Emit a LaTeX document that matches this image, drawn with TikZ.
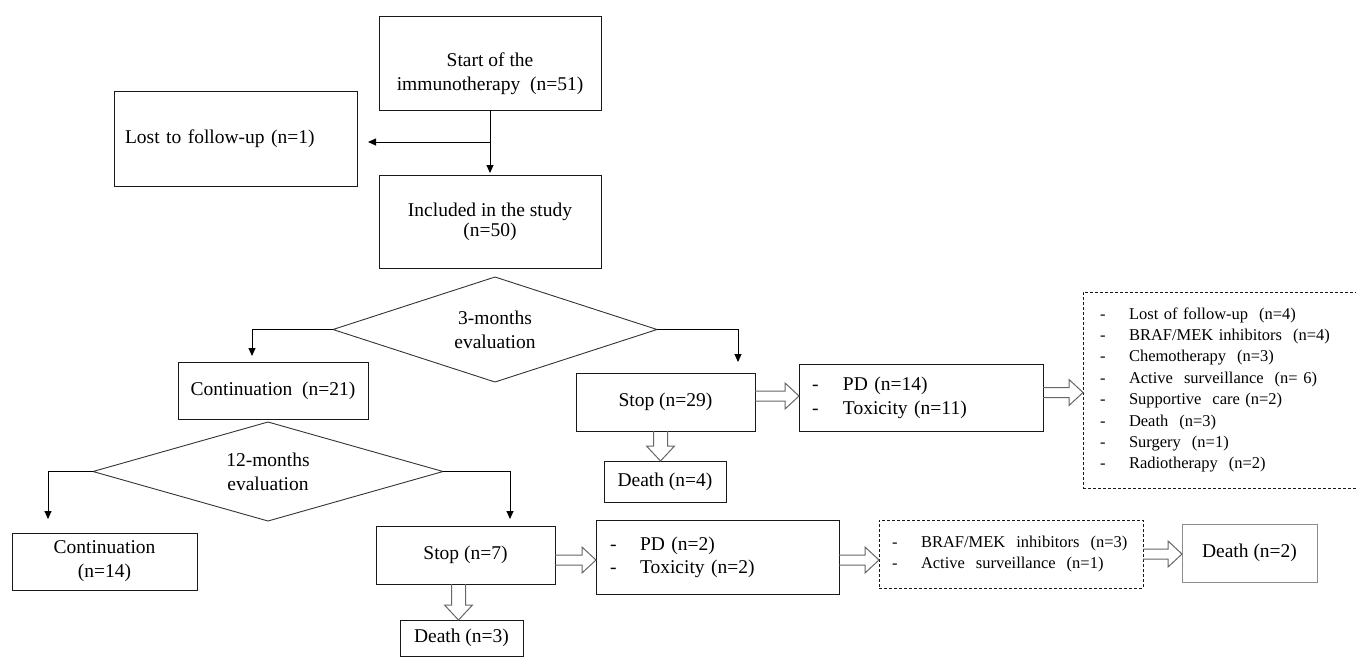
\documentclass[tikz,border=0pt]{standalone}
\usepackage{fontspec}
\setmainfont{Liberation Serif}
\usetikzlibrary{shapes.geometric,calc,arrows.meta}
\newcommand\mainfs{\fontsize{19.5}{24}\selectfont}
\newcommand\listfs{\fontsize{16.5}{21.4}\selectfont}
\newcommand\dd[1]{\makebox[#1][l]{-}}
\newcommand\hblk[2]{\draw[blk] ($(#1)+(0,-5)$) -- ($(#2)+(-14,-5)$) -- ($(#2)+(-14,-13)$) -- (#2) -- ($(#2)+(-14,13)$) -- ($(#2)+(-14,5)$) -- ($(#1)+(0,5)$);}
\newcommand\vblk[2]{\draw[blk] ($(#1)+(-7,0)$) -- ($(#2)+(-7,-15)$) -- ($(#2)+(-14,-15)$) -- (#2) -- ($(#2)+(14,-15)$) -- ($(#2)+(7,-15)$) -- ($(#1)+(7,0)$);}
\begin{document}
\begin{tikzpicture}[x=1pt,y=-1pt,
 sz/.style 2 args={minimum width=#1,minimum height=#2},
 box/.style={draw=black!90, line width=0.9pt, rectangle, inner sep=0pt, outer sep=0pt, align=center, font=\mainfs},
 lbox/.style={box, align=left},
 dbox/.style={draw=black!90, line width=0.9pt, dash pattern=on 3pt off 2pt, rectangle, inner ysep=0pt, outer sep=0pt, align=left, font=\listfs},
 dia/.style={diamond, draw=black!80, line width=0.9pt, aspect=3, inner sep=0pt, outer sep=0pt, align=center, font=\mainfs},
 txt/.style={inner sep=0pt, outer sep=0pt, align=center, font=\mainfs},
 arr/.style={draw=black, line width=0.9pt, -{Triangle[length=8pt,width=7pt]}},
 blk/.style={draw=black!60, line width=1pt, line join=miter},
]
\useasboundingbox (0,0) rectangle (1356,657);

% boxes
\node[box, sz={222pt}{94pt}] (start) at (490,63) {};
\node[txt] (startt) at (490,74) {Start of the\\immunotherapy\ \ (n=51)};
\node[lbox, sz={243pt}{95pt}, text width=221pt, inner xsep=11pt] (lost) at (235.5,138.5) {Lost to follow-up (n=1)};
\node[box, sz={222pt}{93pt}] (included) at (490,221.5) {Included in the study\\[-4pt](n=50)};
\node[dia, sz={324pt}{105pt}] (d3) at (495,329.5) {3-months\\evaluation};
\node[box, sz={190pt}{57pt}] (cont21) at (273,390.5) {Continuation\ \ (n=21)};
\node[box, sz={179pt}{58pt}] (stop29) at (665.5,402) {Stop (n=29)};
\node[box, sz={122pt}{41pt}] (death4) at (665,481.5) {Death (n=4)};
\node[lbox, sz={244pt}{67pt}, text width=218pt, inner xsep=13pt] (pd14) at (921,397.5) {\dd{31pt}PD (n=14)\\\dd{31pt}Toxicity (n=11)};
\node[dbox, sz={277pt}{196pt}, text width=243pt, inner xsep=17pt, anchor=north west] (dash1) at (1083,292) {\dd{29pt}Lost of follow-up\ \ (n=4)\\
\dd{29pt}BRAF/MEK inhibitors\ \ (n=4)\\
\dd{29pt}Chemotherapy\ \ (n=3)\\
\dd{29pt}Active\ \ surveillance\ \ (n=\ 6)\\
\dd{29pt}Supportive\ \ care (n=2)\\
\dd{29pt}Death\ \ (n=3)\\
\dd{29pt}Surgery\ \ (n=1)\\
\dd{29pt}Radiotherapy\ \ (n=2)};
\node[dia, sz={350pt}{99pt}] (d12) at (268,471.5) {12-months\\evaluation};
\node[box, sz={185pt}{57pt}] (cont14) at (104.5,561.5) {Continuation\\(n=14)};
\node[box, sz={179pt}{58pt}] (stop7) at (465.5,555) {Stop (n=7)};
\node[lbox, sz={243pt}{74pt}, text width=215pt, inner xsep=14pt] (pd2) at (717.5,557) {\dd{30pt}PD (n=2)\\[-1pt]\dd{30pt}Toxicity (n=2)};
\node[dbox, sz={264pt}{68pt}, text width=238pt, inner xsep=13pt] (dash2) at (1011,554) {\dd{29pt}BRAF/MEK\ \ inhibitors\ \ (n=3)\\
\dd{29pt}Active\ \ surveillance\ \ (n=1)};
\node[box, draw=black!45, sz={135pt}{58pt}] (death2) at (1249.5,553) {Death (n=2)};
\node[box, sz={123pt}{36pt}, anchor=north west] (death3) at (400,620) {Death (n=3)};

% line arrows
\coordinate (yj) at (0,142);
\coordinate (j1) at (start.south |- yj);
\draw[arr, shorten >=2pt] (start.south) -- (included.north);
\draw[arr, shorten >=11pt] (j1) -- (j1 -| lost.east);
\coordinate (xa) at (252,0);
\coordinate (xb) at (738,0);
\coordinate (xc) at (48,0);
\coordinate (xd) at (510,0);
\draw[arr, shorten >=6pt] (d3.west) -| (xa |- cont21.north);
\draw[arr, shorten >=11pt] (d3.east) -| (xb |- stop29.north);
\draw[arr, shorten >=14pt] (d12.west) -| (xc |- cont14.north);
\draw[arr, shorten >=7pt] (d12.east) -| (xd |- stop7.north);

% block arrows
\coordinate (b1s) at ($(stop29.east)+(0,-6)$);
\coordinate (b1e) at (b1s -| pd14.west);
\hblk{b1s}{b1e}
\coordinate (b2s) at ($(pd14.east)+(0,-5)$);
\coordinate (b2e) at (b2s -| dash1.west);
\hblk{b2s}{b2e}
\coordinate (b3s) at ($(stop29.south)+(-5,0)$);
\coordinate (b3e) at (b3s |- death4.north);
\vblk{b3s}{b3e}
\coordinate (b4s) at ($(stop7.east)+(0,5)$);
\coordinate (b4e) at (b4s -| pd2.west);
\hblk{b4s}{b4e}
\coordinate (b5s) at ($(pd2.east)+(0,3)$);
\coordinate (b5e) at (b5s -| dash2.west);
\hblk{b5s}{b5e}
\coordinate (b6s) at (dash2.east);
\coordinate (b6e) at (b6s -| death2.west);
\hblk{b6s}{b6e}
\coordinate (b7s) at ($(stop7.south)+(-7,0)$);
\coordinate (b7e) at (b7s |- death3.north);
\vblk{b7s}{b7e}
\end{tikzpicture}
\end{document}
